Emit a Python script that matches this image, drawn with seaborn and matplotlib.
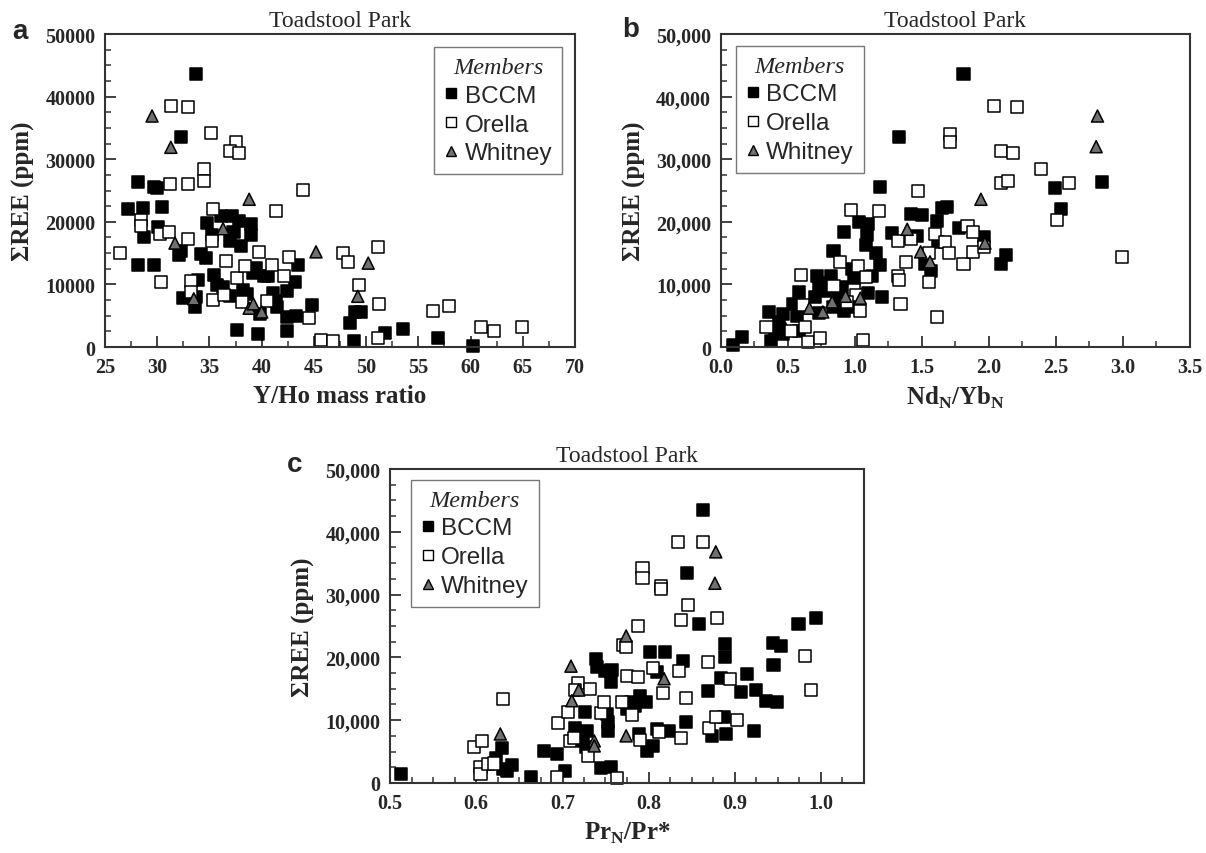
import matplotlib
matplotlib.use("Agg")
import matplotlib.pyplot as plt
from matplotlib.ticker import MultipleLocator, FuncFormatter
from matplotlib.lines import Line2D
import pandas as pd
import seaborn as sns

# ---------------- panel a : Y/Ho mass ratio vs sum REE ----------------
a_bccm_x = [33.7, 32.3, 28.2, 29.7, 30.0, 27.2, 28.6, 30.5, 28.7, 30.1, 28.2, 29.7, 32.1, 32.3,
            32.5, 33.7, 33.6, 33.9, 34.2, 34.7, 34.8, 35.2, 35.4, 35.7, 36.3, 37.0, 36.1, 37.2,
            37.0, 37.3, 37.8, 38.0, 39.0, 39.0, 38.2, 38.6, 39.5, 39.2, 39.8, 40.2, 40.6, 37.6,
            39.6, 41.1, 41.4, 41.5, 42.4, 42.4, 43.2, 43.3, 43.5, 42.4, 44.8, 48.5, 48.9, 49.5,
            48.8, 51.8, 53.5, 56.9, 60.2]
a_bccm_y = [43600, 33500, 26400, 25600, 25400, 22000, 22200, 22400, 17600, 19200, 13100, 13100,
            14700, 15300, 7800, 8000, 6400, 10700, 14900, 14200, 19800, 17900, 11500, 9900, 9600,
            8100, 20900, 20900, 16900, 18400, 20100, 16100, 19600, 17900, 9100, 8500, 12600,
            11800, 5300, 11300, 11300, 2700, 2100, 8600, 7300, 6400, 4800, 8900, 10400, 5000,
            13100, 2600, 6700, 3800, 5600, 5600, 1000, 2200, 2900, 1400, 200]
a_ore_x = [26.4, 28.4, 28.4, 30.3, 30.4, 31.3, 32.9, 31.2, 32.9, 31.1, 32.9, 33.2, 33.2, 34.5,
           34.5, 35.1, 35.3, 35.2, 35.3, 36.6, 36.4, 37.5, 37.0, 37.8, 37.6, 38.1, 38.4, 39.7,
           40.5, 41.0, 41.4, 42.1, 42.6, 44.0, 44.5, 45.7, 46.8, 47.8, 48.3, 49.3, 51.1, 51.2,
           51.1, 56.4, 57.9, 61.0, 62.2, 64.9]
a_ore_y = [15000, 20300, 19300, 18100, 10400, 38500, 38300, 26100, 26100, 18400, 17300, 10500,
           8800, 28400, 26500, 34200, 22000, 16900, 7500, 13700, 8300, 32700, 31300, 31000,
           11000, 7200, 12900, 15200, 7300, 13100, 21700, 11300, 14400, 25100, 4600, 1100, 1000,
           15000, 13600, 9900, 16000, 6900, 1400, 5800, 6600, 3200, 2600, 3200]
a_whi_x = [29.5, 31.3, 31.7, 36.3, 38.8, 33.5, 38.8, 39.2, 40.0, 45.2, 50.2, 49.2]
a_whi_y = [36900, 31900, 16600, 18900, 23600, 7700, 6200, 6900, 5600, 15200, 13400, 8100]

# ---------------- panel b : NdN/YbN vs sum REE ----------------
b_bccm_x = [0.09, 0.16, 0.36, 0.37, 0.40, 0.43, 0.44, 0.46, 0.46, 0.54, 0.57, 0.58, 0.58, 0.70,
            0.72, 0.73, 0.73, 0.76, 0.78, 0.82, 0.84, 0.84, 0.87, 0.90, 0.92, 0.92, 0.96, 0.98,
            0.99, 1.03, 1.10, 1.09, 1.08, 1.13, 1.10, 1.16, 1.19, 1.20, 1.19, 1.28, 1.33, 1.42,
            1.46, 1.50, 1.52, 1.57, 1.61, 1.62, 1.65, 1.69, 1.78, 1.81, 1.96, 2.09, 2.13, 2.49,
            2.54, 2.84]
b_bccm_y = [300, 1600, 5600, 1000, 2600, 4000, 2900, 2100, 5300, 6900, 5000, 8800, 2600, 8000,
            11300, 9600, 5400, 10200, 8900, 11300, 15300, 6400, 8100, 9600, 5800, 18400, 6400,
            12500, 10900, 20000, 19600, 17900, 16300, 11300, 8600, 15000, 13100, 8000, 25500,
            18200, 33500, 21200, 17700, 21100, 13300, 12100, 20100, 16800, 22200, 22400, 19000,
            43600, 17600, 13300, 14700, 25400, 22000, 26400]
b_ore_x = [0.34, 0.52, 0.60, 0.61, 0.63, 0.65, 0.74, 0.84, 0.89, 0.97, 1.02, 0.99, 1.01, 1.04,
           1.06, 1.08, 0.94, 1.18, 1.32, 1.32, 1.33, 1.34, 1.38, 1.42, 1.47, 1.55, 1.55, 1.61,
           1.60, 1.67, 1.70, 1.71, 1.71, 1.81, 1.84, 1.88, 1.88, 1.96, 2.04, 2.21, 2.09, 2.18,
           2.39, 2.09, 2.14, 2.60, 2.51, 2.99]
b_ore_y = [3200, 2600, 11500, 6700, 3200, 800, 1400, 9800, 13600, 21900, 12900, 9100, 8300,
           5800, 1100, 11200, 7200, 21700, 16900, 11300, 10700, 6900, 13600, 17300, 24900,
           15000, 10400, 4800, 18100, 16800, 15000, 34000, 32700, 13300, 19300, 18400, 15200,
           16000, 38500, 38300, 31300, 31000, 28400, 26200, 26500, 26200, 20300, 14400]
b_whi_x = [0.66, 0.76, 0.83, 0.93, 1.04, 1.39, 1.49, 1.56, 1.94, 1.97, 2.81, 2.80]
b_whi_y = [6200, 5600, 7200, 8100, 7800, 18800, 15200, 13600, 23600, 16600, 36900, 32000]

# ---------------- panel c : PrN/Pr* vs sum REE ----------------
c_bccm_x = [0.513, 0.623, 0.630, 0.631, 0.641, 0.636, 0.664, 0.679, 0.694, 0.703, 0.715, 0.726,
            0.722, 0.729, 0.724, 0.727, 0.718, 0.739, 0.740, 0.749, 0.757, 0.756, 0.752, 0.753,
            0.753, 0.745, 0.756, 0.775, 0.780, 0.784, 0.790, 0.797, 0.789, 0.798, 0.805, 0.802,
            0.819, 0.840, 0.810, 0.810, 0.824, 0.843, 0.845, 0.863, 0.859, 0.869, 0.874, 0.890,
            0.887, 0.884, 0.889, 0.889, 0.914, 0.907, 0.925, 0.936, 0.949, 0.922, 0.944, 0.954,
            0.945, 0.974, 0.994]
c_bccm_y = [1500, 3900, 5500, 2200, 2900, 1900, 1000, 5100, 4600, 1900, 8800, 11300, 8100, 8300,
            6700, 5700, 7000, 19700, 18500, 17800, 18000, 16100, 11000, 9700, 8300, 2400, 2500,
            11800, 12900, 12300, 13900, 12900, 7800, 5100, 5900, 20900, 20900, 19400, 17700, 8600,
            8300, 9700, 33400, 43500, 25300, 14600, 7500, 7800, 10500, 16700, 22100, 20100, 17400,
            14500, 14800, 13100, 12900, 8300, 22300, 21800, 18800, 25300, 26300]
c_ore_x = [0.598, 0.607, 0.605, 0.605, 0.614, 0.621, 0.631, 0.695, 0.694, 0.707, 0.709, 0.713,
           0.718, 0.715, 0.732, 0.730, 0.745, 0.748, 0.763, 0.770, 0.774, 0.775, 0.788, 0.769,
           0.781, 0.790, 0.788, 0.793, 0.793, 0.805, 0.815, 0.815, 0.817, 0.812, 0.835, 0.838,
           0.846, 0.838, 0.844, 0.834, 0.863, 0.879, 0.869, 0.870, 0.878, 0.894, 0.903, 0.982,
           0.988]
c_ore_y = [5800, 6700, 2600, 1400, 3000, 3100, 13400, 9600, 1000, 11300, 6700, 7200, 15900,
           14800, 15000, 4300, 11100, 12900, 800, 22000, 21600, 17000, 16900, 12900, 10800, 6800,
           25000, 34200, 32600, 18300, 31400, 30900, 14300, 8100, 17800, 7200, 28300, 26000,
           13500, 38400, 38400, 26300, 19300, 8800, 10500, 16600, 10000, 20200, 14800]
c_whi_x = [0.628, 0.710, 0.711, 0.719, 0.737, 0.737, 0.774, 0.774, 0.818, 0.878, 0.877]
c_whi_y = [7800, 18600, 13100, 14800, 6700, 5900, 23400, 7500, 16600, 36800, 31800]

members = ["BCCM", "Orella", "Whitney"]
fills = {"BCCM": "black", "Orella": "white", "Whitney": "#707070"}
marks = {"BCCM": "s", "Orella": "s", "Whitney": "^"}

sns.set_style("ticks")
plt.rcParams["font.family"] = ["Liberation Serif", "DejaVu Serif"]
plt.rcParams["mathtext.fontset"] = "custom"
plt.rcParams["mathtext.rm"] = "Liberation Serif"
plt.rcParams["mathtext.bf"] = "Liberation Serif:bold"


def make_df(bx, by, ox, oy, wx, wy):
    return pd.DataFrame({
        "x": bx + ox + wx,
        "y": by + oy + wy,
        "member": ["BCCM"] * len(bx) + ["Orella"] * len(ox) + ["Whitney"] * len(wx),
    })


def panel(ax, df, xlab, xlim, xmaj, xmin, xfmt, comma, loc, anchor):
    sns.scatterplot(data=df, x="x", y="y", hue="member", style="member",
                    hue_order=members, style_order=members, palette=fills, markers=marks,
                    s=75, edgecolor="black", linewidth=1.1, legend=False, clip_on=False, ax=ax)
    ax.set_xlim(*xlim)
    ax.set_ylim(0, 50000)
    ax.xaxis.set_major_locator(MultipleLocator(xmaj))
    ax.xaxis.set_minor_locator(MultipleLocator(xmin))
    ax.yaxis.set_major_locator(MultipleLocator(10000))
    ax.yaxis.set_minor_locator(MultipleLocator(2500))
    ax.xaxis.set_major_formatter(FuncFormatter(xfmt))
    if comma:
        ax.yaxis.set_major_formatter(FuncFormatter(lambda v, p: f"{int(v):,}"))
    else:
        ax.yaxis.set_major_formatter(FuncFormatter(lambda v, p: f"{int(v)}"))
    ax.tick_params(which="both", direction="in", top=False, right=False, color="#333333")
    ax.tick_params(which="major", length=8, width=1.3, labelsize=14.5, pad=7)
    ax.tick_params(which="minor", length=4.5, width=1.1)
    for lab in ax.get_xticklabels() + ax.get_yticklabels():
        lab.set_fontweight("bold")
    for sp in ax.spines.values():
        sp.set_linewidth(1.5)
        sp.set_color("#333333")
    ax.set_xlabel(xlab, fontsize=18, fontweight="bold", labelpad=5)
    ax.set_ylabel("ΣREE (ppm)", fontsize=18, fontweight="bold", labelpad=7)
    ax.set_title("Toadstool Park", fontsize=17, pad=6)

    handles = [Line2D([], [], ls="", marker=marks[m], markerfacecolor=fills[m],
                      markeredgecolor="black", markeredgewidth=1.0, markersize=6.5) for m in members]
    leg = ax.legend(handles, members, title="Members", loc=loc, bbox_to_anchor=anchor,
                    frameon=True, fancybox=False, edgecolor="#777777", framealpha=1,
                    handlelength=0.6, handletextpad=0.25, borderpad=0.4, labelspacing=0.28,
                    borderaxespad=0,
                    prop={"family": "Liberation Sans", "size": 17.5},
                    title_fontproperties={"family": "Liberation Serif", "style": "italic", "size": 17.5})
    leg.get_frame().set_linewidth(1.0)


fig = plt.figure(figsize=(12.06, 8.54), dpi=100)
ax_a = fig.add_axes([0.0871, 0.5925, 0.3897, 0.3665])
ax_b = fig.add_axes([0.5978, 0.5925, 0.3889, 0.3665])
ax_c = fig.add_axes([0.3234, 0.0820, 0.3930, 0.3677])

panel(ax_a, make_df(a_bccm_x, a_bccm_y, a_ore_x, a_ore_y, a_whi_x, a_whi_y),
      "Y/Ho mass ratio", (25, 70), 5, 2.5, lambda v, p: f"{int(round(v))}",
      False, "upper right", (0.972, 0.958))
panel(ax_b, make_df(b_bccm_x, b_bccm_y, b_ore_x, b_ore_y, b_whi_x, b_whi_y),
      r"Nd$_{\mathbf{N}}$/Yb$_{\mathbf{N}}$", (0, 3.5), 0.5, 0.25, lambda v, p: f"{v:.1f}",
      True, "upper left", (0.032, 0.962))
panel(ax_c, make_df(c_bccm_x, c_bccm_y, c_ore_x, c_ore_y, c_whi_x, c_whi_y),
      r"Pr$_{\mathbf{N}}$/Pr*", (0.5, 1.05), 0.1, 0.025, lambda v, p: f"{v:.1f}",
      True, "upper left", (0.044, 0.965))

letter_font = {"family": "Liberation Sans", "weight": "bold", "size": 20}
fig.text(0.010, 0.962, "a", ha="left", va="center", fontdict=letter_font)
fig.text(0.516, 0.965, "b", ha="left", va="center", fontdict=letter_font)
fig.text(0.238, 0.455, "c", ha="left", va="center", fontdict=letter_font)

fig.savefig("out.png", dpi=100)
